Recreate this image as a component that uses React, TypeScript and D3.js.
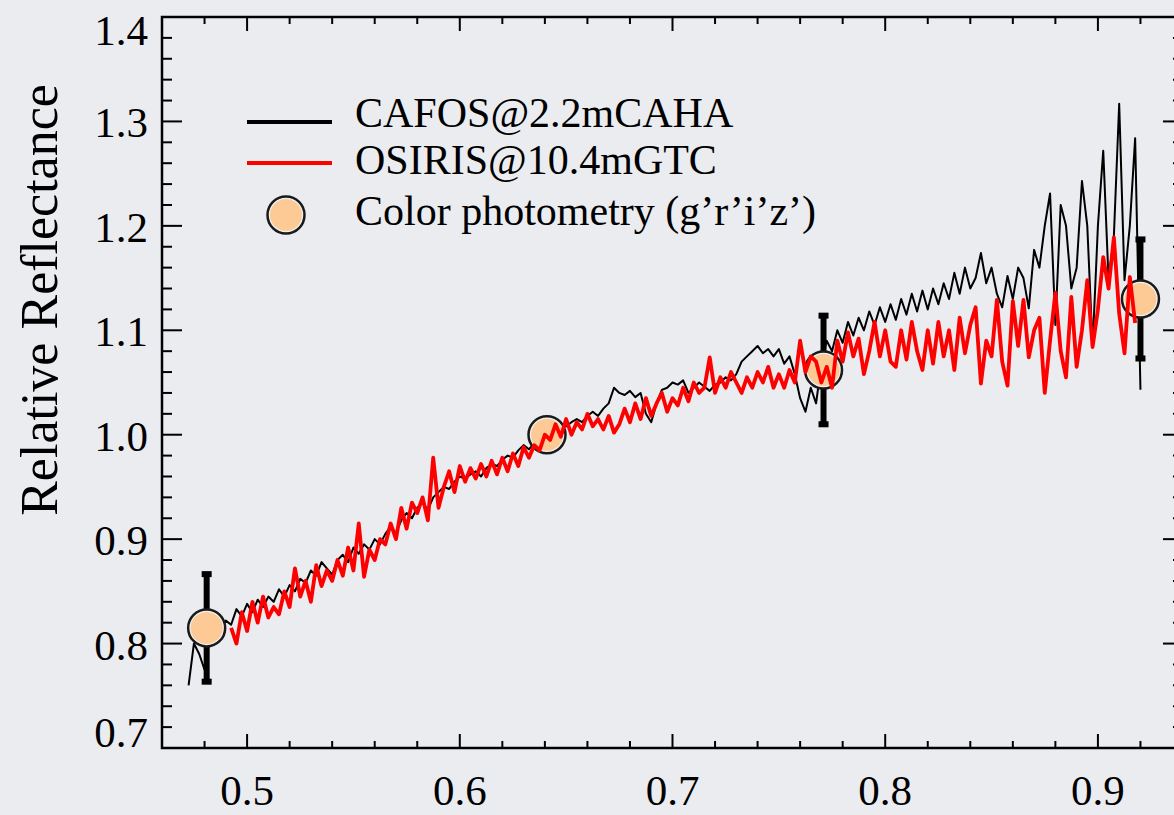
import React, { useEffect, useRef } from 'react';
import * as d3 from 'd3';

const W = 1174, H = 815;

// CAFOS@2.2mCAHA spectrum, one value every 0.0025 micron from 0.4725
const cafosStart = 0.4725;
const cafosStep = 0.0025;
const cafos = [
  0.76, 0.80, 0.79, 0.775, 0.805, 0.80, 0.815, 0.822, 0.818, 0.833,
  0.826, 0.838, 0.83, 0.842, 0.835, 0.845, 0.84, 0.852, 0.845, 0.856,
  0.85, 0.862, 0.858, 0.87, 0.865, 0.878, 0.872, 0.866, 0.88, 0.885,
  0.878, 0.892, 0.886, 0.895, 0.89, 0.90, 0.895, 0.905, 0.912, 0.906,
  0.918, 0.925, 0.92, 0.93, 0.935, 0.928, 0.94, 0.945, 0.95, 0.948,
  0.955, 0.96, 0.958, 0.962, 0.965, 0.96, 0.968, 0.972, 0.97, 0.976,
  0.98, 0.978, 0.985, 0.99, 0.986, 0.992, 0.995, 1.0, 1.002, 1.005,
  1.01, 1.008, 1.012, 1.015, 1.012, 1.018, 1.022, 1.018, 1.025, 1.03,
  1.045, 1.04, 1.038, 1.042, 1.036, 1.04, 1.02, 1.012, 1.03, 1.043,
  1.045, 1.05, 1.048, 1.052, 1.04, 1.045, 1.05, 1.046, 1.042, 1.048,
  1.05, 1.055, 1.052, 1.058, 1.07, 1.075, 1.08, 1.085, 1.078, 1.082,
  1.075, 1.082, 1.068, 1.075, 1.058, 1.035, 1.022, 1.045, 1.03, 1.068,
  1.09, 1.08, 1.10, 1.088, 1.108, 1.095, 1.112, 1.10, 1.118, 1.105,
  1.122, 1.108, 1.125, 1.11, 1.13, 1.115, 1.135, 1.118, 1.138, 1.12,
  1.14, 1.125, 1.145, 1.13, 1.155, 1.135, 1.16, 1.14, 1.15, 1.174,
  1.145, 1.16, 1.135, 1.122, 1.152, 1.13, 1.16, 1.15, 1.121, 1.177,
  1.16, 1.20, 1.231, 1.105, 1.22, 1.20, 1.14, 1.16, 1.243, 1.20,
  1.084, 1.20, 1.272, 1.148, 1.19, 1.317, 1.148, 1.20, 1.284, 1.043,
];

// OSIRIS@10.4mGTC spectrum, one value every 0.0025 micron from 0.4925
const osirisStart = 0.4925;
const osirisStep = 0.0025;
const osiris = [
  0.815, 0.80, 0.83, 0.812, 0.84, 0.82, 0.845, 0.825, 0.835, 0.828,
  0.85, 0.835, 0.872, 0.845, 0.86, 0.84, 0.875, 0.855, 0.87, 0.86,
  0.88, 0.865, 0.892, 0.87, 0.915, 0.864, 0.89, 0.88, 0.90, 0.895,
  0.915, 0.90, 0.93, 0.91, 0.935, 0.925, 0.94, 0.918, 0.978, 0.93,
  0.95, 0.965, 0.945, 0.97, 0.955, 0.968, 0.958, 0.972, 0.96, 0.975,
  0.962, 0.978, 0.965, 0.982, 0.97, 0.988, 0.978, 0.99, 0.985, 1.0,
  0.995, 1.01, 0.998, 1.015, 1.0, 1.012, 1.005, 1.02, 1.008, 1.015,
  1.005, 1.018, 1.002, 1.01, 1.025, 1.012, 1.03, 1.015, 1.035, 1.018,
  1.03, 1.04, 1.022, 1.035, 1.028, 1.045, 1.032, 1.05, 1.04, 1.045,
  1.074, 1.04, 1.055, 1.045, 1.06, 1.05, 1.04, 1.055, 1.045, 1.06,
  1.05, 1.065, 1.045, 1.058, 1.045, 1.062, 1.05, 1.09, 1.06, 1.075,
  1.07, 1.05, 1.065, 1.045, 1.09, 1.07, 1.098, 1.075, 1.092, 1.058,
  1.08, 1.108, 1.075, 1.10, 1.07, 1.065, 1.10, 1.072, 1.108, 1.08,
  1.062, 1.10, 1.068, 1.108, 1.075, 1.10, 1.062, 1.112, 1.078, 1.105,
  1.122, 1.049, 1.09, 1.075, 1.129, 1.07, 1.047, 1.128, 1.085, 1.129,
  1.074, 1.10, 1.112, 1.04, 1.09, 1.136, 1.08, 1.055, 1.132, 1.065,
  1.10, 1.148, 1.084, 1.12, 1.17, 1.14, 1.189, 1.116, 1.078, 1.151,
  1.107,
];

// color photometry (g'r'i'z')
const photWave = [0.481, 0.641, 0.771, 0.92];
const photRefl = [0.815, 1.0, 1.062, 1.13];
const photErr = [0.0515, 0, 0.052, 0.057];

const xMajor = [0.5, 0.6, 0.7, 0.8, 0.9];
const yMajor = [0.7, 0.8, 0.9, 1.0, 1.1, 1.2, 1.3, 1.4];
const legendLabels = ['CAFOS@2.2mCAHA', 'OSIRIS@10.4mGTC', 'Color photometry (g\u2019r\u2019i\u2019z\u2019)'];
const yTitle = 'Relative Reflectance';

const serif = '"Liberation Serif", "Times New Roman", Times, serif';

export default function App() {
  const ref = useRef<SVGSVGElement>(null);

  useEffect(() => {
    const svg = d3.select(ref.current);
    svg.selectAll('*').remove();

    const left = 162, right = 1183, top = 17, bottom = 748;
    const x = d3.scaleLinear().domain([0.46, 0.94]).range([left, right]);
    const y = d3.scaleLinear().domain([0.7, 1.4]).range([bottom, top]);

    svg.append('rect').attr('width', W).attr('height', H).attr('fill', '#ebecf0');

    const line = d3.line<[number, number]>().x(d => x(d[0])).y(d => y(d[1]));
    const cafosPts: [number, number][] = cafos.map((v, i) => [cafosStart + i * cafosStep, v]);
    const osirisPts: [number, number][] = osiris.map((v, i) => [osirisStart + i * osirisStep, v]);

    // frame and ticks
    const g = svg.append('g').attr('stroke', '#000');
    g.append('rect')
      .attr('x', left).attr('y', top)
      .attr('width', right - left).attr('height', bottom - top)
      .attr('fill', 'none').attr('stroke-width', 2.5);

    const xMinor = d3.range(0, 25).map(i => 0.46 + i * 0.02);
    xMinor.forEach(v => {
      const major = xMajor.some(m => Math.abs(m - v) < 1e-6);
      const len = major ? 14 : 7;
      g.append('line').attr('x1', x(v)).attr('x2', x(v)).attr('y1', bottom).attr('y2', bottom - len).attr('stroke-width', 2);
      g.append('line').attr('x1', x(v)).attr('x2', x(v)).attr('y1', top).attr('y2', top + len).attr('stroke-width', 2);
    });
    const yMinor = d3.range(0, 36).map(i => 0.7 + i * 0.02);
    yMinor.forEach(v => {
      const major = yMajor.some(m => Math.abs(m - v) < 1e-6);
      const len = major ? 20 : 10;
      g.append('line').attr('y1', y(v)).attr('y2', y(v)).attr('x1', left).attr('x2', left + len).attr('stroke-width', 2);
      g.append('line').attr('y1', y(v)).attr('y2', y(v)).attr('x1', right).attr('x2', right - len).attr('stroke-width', 2);
    });

    svg.selectAll('.xl').data(xMajor).enter().append('text')
      .attr('x', d => x(d)).attr('y', 805)
      .attr('text-anchor', 'middle')
      .attr('font-family', serif).attr('font-size', 43)
      .text(d => d.toFixed(1));

    svg.selectAll('.yl').data(yMajor).enter().append('text')
      .attr('x', 148)
      .attr('y', d => Math.min(747, Math.max(45, y(d) + 16)))
      .attr('text-anchor', 'end')
      .attr('font-family', serif).attr('font-size', 43)
      .text(d => d.toFixed(1));

    svg.append('text')
      .attr('transform', 'translate(57,300) rotate(-90)')
      .attr('text-anchor', 'middle')
      .attr('font-family', serif).attr('font-size', 52)
      .text(yTitle);

    // CAFOS below the photometry
    svg.append('path').datum(cafosPts)
      .attr('d', line).attr('fill', 'none')
      .attr('stroke', '#000').attr('stroke-width', 2).attr('stroke-linejoin', 'round');

    // error bars
    photWave.forEach((w, i) => {
      if (photErr[i] <= 0) return;
      const cx = x(w);
      const y0 = y(photRefl[i] + photErr[i]);
      const y1 = y(photRefl[i] - photErr[i]);
      svg.append('line').attr('x1', cx).attr('x2', cx).attr('y1', y0).attr('y2', y1)
        .attr('stroke', '#000').attr('stroke-width', 6);
      [y0, y1].forEach(yy => {
        svg.append('rect').attr('x', cx - 5).attr('y', yy - 3).attr('width', 10).attr('height', 6).attr('fill', '#000');
      });
    });

    // photometry markers
    photWave.forEach((w, i) => {
      svg.append('circle').attr('cx', x(w)).attr('cy', y(photRefl[i])).attr('r', 18.5)
        .attr('fill', '#f1f1f3').attr('stroke', '#1a1a1a').attr('stroke-width', 2.5);
      svg.append('circle').attr('cx', x(w)).attr('cy', y(photRefl[i])).attr('r', 16)
        .attr('fill', '#fdca96');
    });

    svg.append('path').datum(osirisPts)
      .attr('d', line).attr('fill', 'none')
      .attr('stroke', '#ff0000').attr('stroke-width', 3.8).attr('stroke-linejoin', 'round');

    // legend
    const lg = svg.append('g');
    lg.append('line').attr('x1', 247).attr('x2', 332).attr('y1', 122).attr('y2', 122).attr('stroke', '#000').attr('stroke-width', 4);
    lg.append('line').attr('x1', 247).attr('x2', 332).attr('y1', 163).attr('y2', 163).attr('stroke', '#ff0000').attr('stroke-width', 4);
    lg.append('circle').attr('cx', 286).attr('cy', 215).attr('r', 18.5)
      .attr('fill', '#f1f1f3').attr('stroke', '#1a1a1a').attr('stroke-width', 2.5);
    lg.append('circle').attr('cx', 286).attr('cy', 215).attr('r', 16).attr('fill', '#fdca96');
    const baselines = [127, 174, 225];
    legendLabels.forEach((t, i) => {
      lg.append('text').attr('x', 355).attr('y', baselines[i])
        .attr('font-family', serif).attr('font-size', 42).text(t);
    });
  }, []);

  return (
    <svg ref={ref} width={W} height={H}
      style={{ position: 'absolute', left: 0, top: 0, display: 'block' }} />
  );
}
